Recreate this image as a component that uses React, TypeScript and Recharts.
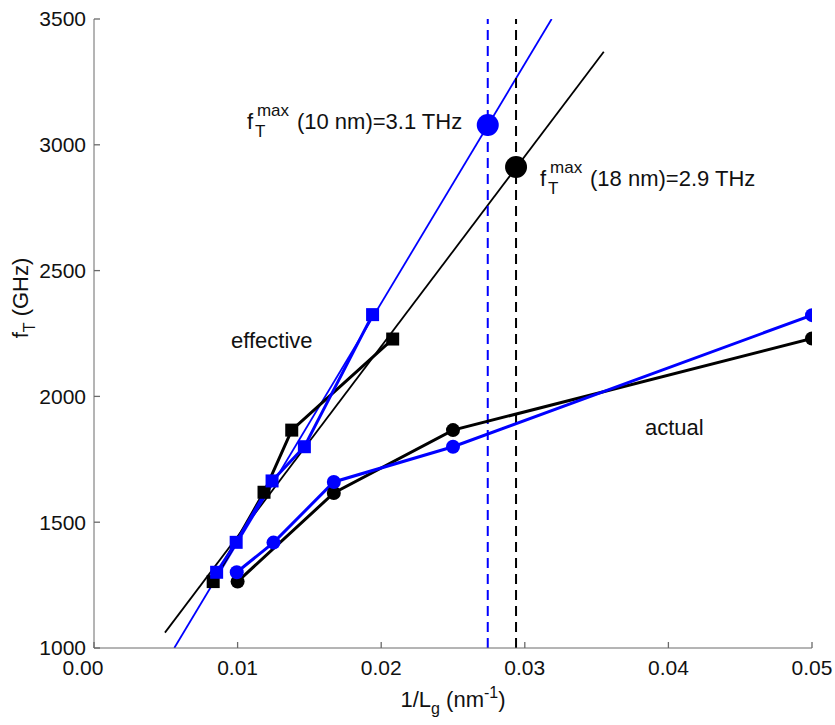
import React from 'react'
import {
  ComposedChart,
  Line,
  XAxis,
  YAxis,
  ReferenceLine,
  ReferenceDot,
} from 'recharts'

const FONT = 'Arial, "Liberation Sans", Helvetica, sans-serif'
const AXIS = '#6a6a6a'
const BLUE = '#0000ff'

const xTicks = [0, 0.01, 0.02, 0.03, 0.04, 0.05]
const yTicks = [1000, 1500, 2000, 2500, 3000, 3500]

// actual gate length (circles)
const blackActualX = [0.01, 0.0167, 0.025, 0.05]
const blackActualY = [1264, 1616, 1866, 2230]
const blueActualX = [0.00994, 0.0125, 0.0167, 0.025, 0.05]
const blueActualY = [1301, 1419, 1660, 1800, 2323]

// effective gate length (squares)
const blackEffX = [0.0083, 0.01184, 0.01377, 0.0208]
const blackEffY = [1264, 1619, 1866, 2228]
const blueEffX = [0.00854, 0.0099, 0.0124, 0.01465, 0.0194]
const blueEffY = [1301, 1420, 1664, 1800, 2325]

// straight-line fits through the effective points
const blackFitX = [0.00494, 0.0355]
const blackFitY = [1061, 3370]
const blueFitX = [0.00559, 0.03187]
const blueFitY = [1000, 3500]

// extrapolated fT max
const blueMaxX = 0.02742
const blueMaxY = 3079
const blackMaxX = 0.02939
const blackMaxY = 2912

// text anchors (data coords, baseline of text)
const note10 = { x: 0.01065, y: 3063, label: '(10 nm)=3.1 THz' }
const note18 = { x: 0.03106, y: 2836, label: '(18 nm)=2.9 THz' }
const effectiveNote = { x: 0.00954, y: 2192, label: 'effective' }
const actualNote = { x: 0.03837, y: 1847, label: 'actual' }

const TICK_LEN = 6

const toPoints = (xs: number[], ys: number[]) =>
  xs.map((x, i) => ({ x, y: ys[i] }))

const square = (color: string) => (props: any) => {
  const { cx, cy, index } = props
  if (cx == null || cy == null) return <g key={`s-${index}`} />
  return (
    <rect
      key={`s-${color}-${index}`}
      x={cx - 6.5}
      y={cy - 6.5}
      width={13}
      height={13}
      fill={color}
      stroke="none"
    />
  )
}

const circle = (color: string) => (props: any) => {
  const { cx, cy, index } = props
  if (cx == null || cy == null) return <g key={`c-${index}`} />
  return <circle key={`c-${color}-${index}`} cx={cx} cy={cy} r={7} fill={color} />
}

// bottom: label plus inward tick (tickMargin 12, tickSize 0)
const XTick = ({ x, y, payload }: any) => (
  <g>
    <line x1={x} x2={x} y1={y - 12} y2={y - 12 - TICK_LEN} stroke={AXIS} strokeWidth={1.3} />
    <text
      x={payload.value === 0 ? x - 11 : x}
      y={y}
      dy="0.71em"
      textAnchor="middle"
      fill="#111"
      fontSize={21}
      fontFamily={FONT}
    >
      {payload.value.toFixed(2)}
    </text>
  </g>
)

const TopTick = ({ x, y }: any) => (
  <line x1={x} x2={x} y1={y} y2={y + TICK_LEN} stroke={AXIS} strokeWidth={1.3} />
)

// left: tickMargin 8
const YTick = ({ x, y, payload }: any) => (
  <g>
    <line x1={x + 8} x2={x + 8 + TICK_LEN} y1={y} y2={y} stroke={AXIS} strokeWidth={1.3} />
    <text
      x={x}
      y={y}
      dy="0.355em"
      textAnchor="end"
      fill="#111"
      fontSize={21}
      fontFamily={FONT}
    >
      {payload.value}
    </text>
  </g>
)

const RightTick = ({ x, y }: any) => (
  <line x1={x} x2={x - TICK_LEN} y1={y} y2={y} stroke={AXIS} strokeWidth={1.3} />
)

const XTitle = ({ viewBox }: any) => {
  const cx = viewBox.x + viewBox.width / 2
  const cy = viewBox.y + 59
  return (
    <text x={cx} y={cy} textAnchor="middle" fill="#111" fontSize={22} fontFamily={FONT}>
      1/L<tspan dy={7} fontSize={16}>g</tspan>
      <tspan dy={-7}> (nm</tspan>
      <tspan dy={-9} fontSize={16}>-1</tspan>
      <tspan dy={9}>)</tspan>
    </text>
  )
}

const YTitle = ({ viewBox }: any) => {
  const cx = viewBox.x + 28
  const cy = viewBox.y + 279
  return (
    <text
      x={cx}
      y={cy}
      transform={`rotate(-90 ${cx} ${cy})`}
      textAnchor="middle"
      fill="#111"
      fontSize={22}
      fontFamily={FONT}
    >
      f<tspan dy={7} fontSize={16}>T</tspan>
      <tspan dy={-7}> (GHz)</tspan>
    </text>
  )
}

const maxNote = (label: string) => (props: any) => {
  const { cx, cy } = props
  return (
    <text x={cx} y={cy} fill="#111" fontSize={22} fontFamily={FONT}>
      f
      <tspan x={cx + 8} dy={8} fontSize={17}>T</tspan>
      <tspan x={cx + 10} dy={-21} fontSize={17}>max</tspan>
      <tspan x={cx + 50} dy={13}>{label}</tspan>
    </text>
  )
}

const plainNote = (label: string) => (props: any) => (
  <text x={props.cx} y={props.cy} fill="#111" fontSize={22} fontFamily={FONT}>
    {label}
  </text>
)

export default function App() {
  return (
    <div style={{ position: 'absolute', left: 0, top: 0, width: 835, height: 725, background: '#fff' }}>
      <ComposedChart
        width={835}
        height={725}
        margin={{ top: 19, right: 23, bottom: 0, left: 0 }}
      >
        <XAxis
          dataKey="x"
          type="number"
          domain={[0, 0.05]}
          ticks={xTicks}
          height={77}
          tickLine={false}
          tickSize={0}
          tickMargin={12}
          stroke={AXIS}
          tick={<XTick />}
          label={{ content: <XTitle /> }}
          allowDataOverflow
        />
        <XAxis
          xAxisId="top"
          orientation="top"
          dataKey="x"
          type="number"
          domain={[0, 0.05]}
          ticks={xTicks}
          height={0}
          tickLine={false}
          tickSize={0}
          tickMargin={0}
          tick={<TopTick />}
          stroke={AXIS}
          allowDataOverflow
        />
        <YAxis
          dataKey="y"
          type="number"
          domain={[1000, 3500]}
          ticks={yTicks}
          width={94}
          tickLine={false}
          tickSize={0}
          tickMargin={8}
          stroke={AXIS}
          tick={<YTick />}
          label={{ content: <YTitle /> }}
          allowDataOverflow
        />
        <YAxis
          yAxisId="right"
          orientation="right"
          dataKey="y"
          type="number"
          domain={[1000, 3500]}
          ticks={yTicks}
          width={0}
          tickLine={false}
          tickSize={0}
          tickMargin={0}
          tick={<RightTick />}
          stroke={AXIS}
          allowDataOverflow
        />

        {/* linear fits */}
        <Line
          data={toPoints(blackFitX, blackFitY)}
          dataKey="y"
          stroke="#000"
          strokeWidth={1.8}
          dot={false}
          isAnimationActive={false}
        />
        <Line
          data={toPoints(blueFitX, blueFitY)}
          dataKey="y"
          stroke={BLUE}
          strokeWidth={1.8}
          dot={false}
          isAnimationActive={false}
        />

        <ReferenceLine x={blueMaxX} stroke={BLUE} strokeWidth={2} strokeDasharray="10 6" />
        <ReferenceLine x={blackMaxX} stroke="#000" strokeWidth={2} strokeDasharray="10 6" />

        {/* measured points */}
        <Line
          data={toPoints(blackEffX, blackEffY)}
          dataKey="y"
          stroke="#000"
          strokeWidth={3}
          dot={square('#000')}
          isAnimationActive={false}
        />
        <Line
          data={toPoints(blackActualX, blackActualY)}
          dataKey="y"
          stroke="#000"
          strokeWidth={3}
          dot={circle('#000')}
          isAnimationActive={false}
        />
        <Line
          data={toPoints(blueEffX, blueEffY)}
          dataKey="y"
          stroke={BLUE}
          strokeWidth={3}
          dot={square(BLUE)}
          isAnimationActive={false}
        />
        <Line
          data={toPoints(blueActualX, blueActualY)}
          dataKey="y"
          stroke={BLUE}
          strokeWidth={3}
          dot={circle(BLUE)}
          isAnimationActive={false}
        />

        <ReferenceDot x={blueMaxX} y={blueMaxY} r={11} fill={BLUE} stroke="none" />
        <ReferenceDot x={blackMaxX} y={blackMaxY} r={11} fill="#000" stroke="none" />

        <ReferenceDot x={note10.x} y={note10.y} r={0} shape={maxNote(note10.label)} />
        <ReferenceDot x={note18.x} y={note18.y} r={0} shape={maxNote(note18.label)} />
        <ReferenceDot x={effectiveNote.x} y={effectiveNote.y} r={0} shape={plainNote(effectiveNote.label)} />
        <ReferenceDot x={actualNote.x} y={actualNote.y} r={0} shape={plainNote(actualNote.label)} />
      </ComposedChart>
    </div>
  )
}
